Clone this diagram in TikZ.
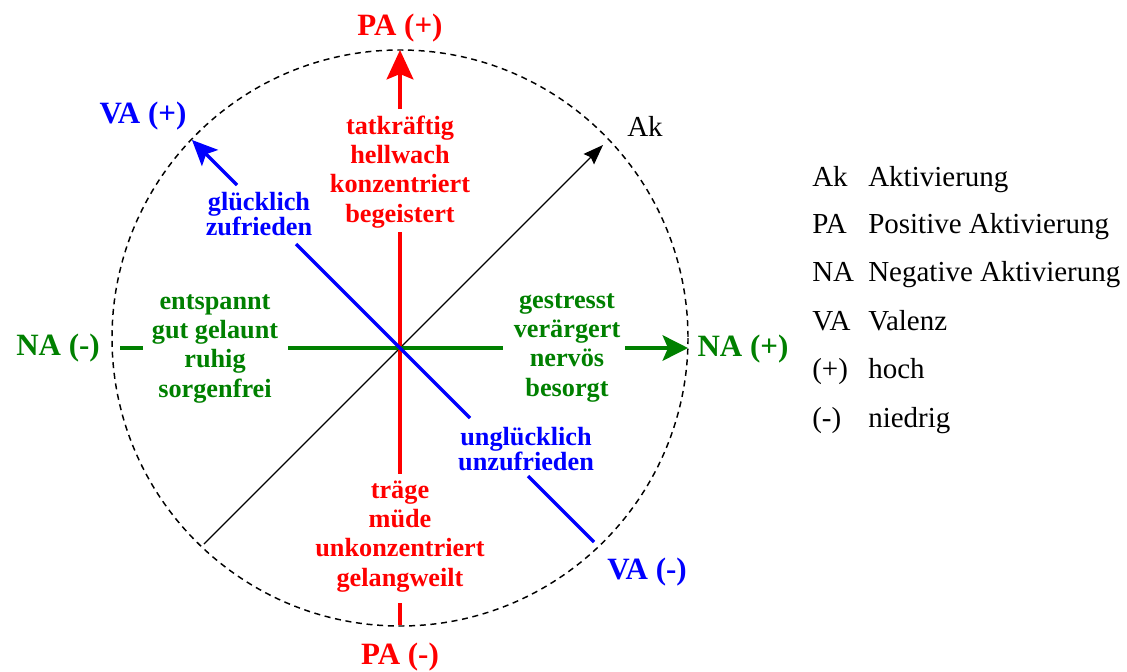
\documentclass[tikz,border=0pt]{standalone}
\usepackage{fontspec}
\setmainfont{Liberation Serif}
\usetikzlibrary{arrows.meta}
\definecolor{pared}{RGB}{255,0,0}
\definecolor{nagreen}{RGB}{0,128,0}
\definecolor{vablue}{RGB}{0,0,255}
\begin{document}
\begin{tikzpicture}[x=0.75pt,y=-0.75pt,
  axislabel/.style={font=\fontsize{23.25}{26}\selectfont\bfseries, inner sep=0pt, anchor=base},
  innerlabel/.style={font=\fontsize{19.7}{22}\selectfont\bfseries, align=center, inner sep=0pt, anchor=base},
  bluelabel/.style={font=\fontsize{19.7}{18.5}\selectfont\bfseries, align=center, inner sep=0pt, anchor=base},
  legtext/.style={font=\fontsize{21.75}{24}\selectfont, anchor=base west, inner sep=0pt},
  paline/.style={pared, line width=3pt},
  naline/.style={nagreen, line width=3pt},
  valine/.style={vablue, line width=2.5pt},
  akline/.style={black, line width=1pt},
  patip/.style={-{Stealth[length=22pt,width=20pt,inset=4pt]}},
  natip/.style={-{Stealth[length=19pt,width=19pt,inset=4pt]}},
  vatip/.style={-{Stealth[length=19pt,width=17pt,inset=4pt]}},
  aktip/.style={-{Stealth[length=15pt,width=11pt,inset=2pt]}},
  ring/.style={black, line width=1.1pt, dash pattern=on 4.5pt off 3.5pt}
]
\useasboundingbox (0,0) rectangle (1127,671);
% dashed circle
\draw[ring] (400,338) circle[radius=288];
% coordinates
\coordinate (O) at (400,348);
\coordinate (paTop) at (400,50);
\coordinate (r1) at (400,109);
\coordinate (r2) at (400,232);
\coordinate (r3) at (400,474);
\coordinate (r4) at (400,603);
\coordinate (paBot) at (400,625);
\coordinate (g1) at (120,348);
\coordinate (g2) at (143,348);
\coordinate (g3) at (288,348);
\coordinate (g4) at (503,348);
\coordinate (g5) at (625,348);
\coordinate (naTip) at (688,348);
\coordinate (vaTip) at (192,140);
\coordinate (b1) at (237,185);
\coordinate (b2) at (296,244);
\coordinate (b3) at (470,418);
\coordinate (b4) at (528,476);
\coordinate (vaEnd) at (594,542);
\coordinate (akStart) at (204,544);
\coordinate (akTip) at (603,145);
% Ak axis
\draw[akline, aktip] (akStart) -- (akTip);
% PA axis
\draw[paline, patip] (r1) -- (paTop);
\draw[paline] (r2) -- (r3);
\draw[paline] (r4) -- (paBot);
% NA axis
\draw[naline] (g1) -- (g2);
\draw[naline] (g3) -- (g4);
\draw[naline, natip] (g5) -- (naTip);
% VA axis
\draw[valine, vatip] (b1) -- (vaTip);
\draw[valine] (b2) -- (b3);
\draw[valine] (b4) -- (vaEnd);
% axis labels
\node[axislabel, pared] (lPAp) at (400,36) {PA (+)};
\node[axislabel, pared] (lPAm) at (400,664) {PA (-)};
\node[axislabel, nagreen] (lNAm) at (58,355) {NA (-)};
\node[axislabel, nagreen] (lNAp) at (743,356) {NA (+)};
\node[axislabel, vablue] (lVAp) at (143,123) {VA (+)};
\node[axislabel, vablue] (lVAm) at (647,579) {VA (-)};
\node[legtext] (lAk) at (627,136) {Ak};
% inner labels (anchor = baseline of last line)
\node[innerlabel, pared] (tPAp) at (400,222) {tatkräftig\\hellwach\\konzentriert\\begeistert};
\node[innerlabel, pared] (tPAm) at (400,586) {träge\\müde\\unkonzentriert\\gelangweilt};
\node[innerlabel, nagreen] (tNAm) at (215,397) {entspannt\\gut gelaunt\\ruhig\\sorgenfrei};
\node[innerlabel, nagreen] (tNAp) at (567,396) {gestresst\\verärgert\\nervös\\besorgt};
\node[bluelabel, vablue] (tVAp) at (259,235) {glücklich\\zufrieden};
\node[bluelabel, vablue] (tVAm) at (526,470) {unglücklich\\unzufrieden};
% legend
\node[legtext] (kAk) at (812,186) {Ak};
\node[legtext] (dAk) at (868,186) {Aktivierung};
\node[legtext] (kPA) at (812,233) {PA};
\node[legtext] (dPA) at (868,233) {Positive Aktivierung};
\node[legtext] (kNA) at (812,281) {NA};
\node[legtext] (dNA) at (868,281) {Negative Aktivierung};
\node[legtext] (kVA) at (812,330) {VA};
\node[legtext] (dVA) at (868,330) {Valenz};
\node[legtext] (kHi) at (812,378) {(+)};
\node[legtext] (dHi) at (868,378) {hoch};
\node[legtext] (kLo) at (812,427) {(-)};
\node[legtext] (dLo) at (868,427) {niedrig};
\end{tikzpicture}
\end{document}
